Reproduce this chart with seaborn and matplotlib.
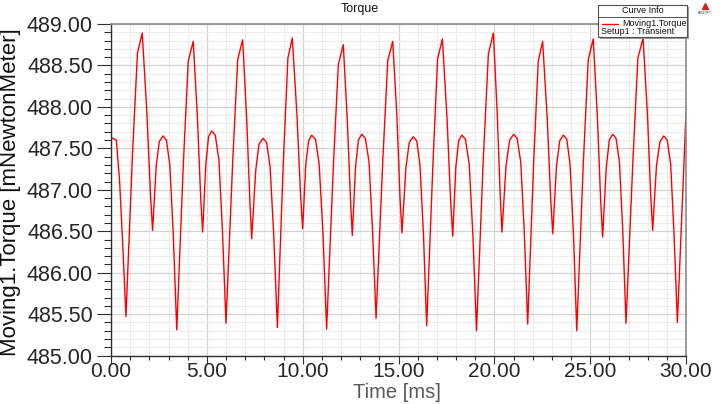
import matplotlib
matplotlib.use("Agg")
import matplotlib.pyplot as plt
from matplotlib.ticker import MultipleLocator, FormatStrFormatter
from matplotlib.patches import Rectangle
from matplotlib.lines import Line2D
import seaborn as sns
import pandas as pd

# ---- data (time in ms, torque in mNewtonMeter) ----
time_ms = [
    0.00, 0.28, 0.45, 0.62,
    0.78, 1.12, 1.38, 1.63, 1.87, 2.06, 2.17, 2.36, 2.52, 2.71, 2.89, 3.07, 3.25,
    3.43, 3.77, 4.03, 4.29, 4.51, 4.68, 4.78, 4.95, 5.09, 5.25, 5.44, 5.63, 5.81,
    6.00, 6.35, 6.61, 6.87, 7.08, 7.25, 7.34, 7.55, 7.72, 7.93, 8.12, 8.30, 8.49,
    8.68, 8.99, 9.23, 9.46, 9.70, 9.89, 10.00, 10.16, 10.31, 10.47, 10.67, 10.86, 11.06,
    11.25, 11.60, 11.86, 12.12, 12.33, 12.50, 12.59, 12.76, 12.91, 13.08, 13.27, 13.46, 13.64,
    13.83, 14.18, 14.44, 14.70, 14.92, 15.08, 15.18, 15.39, 15.56, 15.77, 15.95, 16.12, 16.30,
    16.47, 16.80, 17.04, 17.29, 17.53, 17.72, 17.83, 17.99, 18.14, 18.30, 18.49, 18.69, 18.88,
    19.07, 19.42, 19.69, 19.95, 20.15, 20.31, 20.40, 20.61, 20.80, 21.01, 21.19, 21.38, 21.56,
    21.74, 22.05, 22.29, 22.52, 22.76, 22.94, 23.05, 23.24, 23.41, 23.60, 23.78, 23.95, 24.13,
    24.30, 24.64, 24.90, 25.16, 25.38, 25.55, 25.65, 25.84, 26.00, 26.18, 26.35, 26.53, 26.70,
    26.87, 27.23, 27.49, 27.76, 27.99, 28.16, 28.26, 28.46, 28.64, 28.84, 29.02, 29.20, 29.37,
    29.55, 29.89, 30.00,
]
torque = [
    487.63, 487.60, 487.10, 486.30,
    485.47, 487.42, 488.65, 488.89, 487.94, 486.94, 486.51, 487.29, 487.58, 487.65, 487.60, 487.30, 486.46,
    485.31, 487.29, 488.55, 488.79, 487.87, 486.90, 486.49, 487.32, 487.64, 487.71, 487.66, 487.36, 486.53,
    485.39, 487.34, 488.57, 488.81, 487.85, 486.84, 486.41, 487.23, 487.55, 487.62, 487.57, 487.28, 486.46,
    485.34, 487.33, 488.59, 488.83, 487.91, 486.94, 486.53, 487.30, 487.59, 487.66, 487.61, 487.31, 486.47,
    485.32, 487.28, 488.51, 488.75, 487.83, 486.86, 486.45, 487.28, 487.60, 487.67, 487.62, 487.34, 486.54,
    485.45, 487.35, 488.56, 488.79, 487.87, 486.90, 486.48, 487.27, 487.57, 487.64, 487.59, 487.30, 486.48,
    485.36, 487.33, 488.58, 488.82, 487.87, 486.87, 486.44, 487.27, 487.59, 487.66, 487.61, 487.31, 486.46,
    485.30, 487.35, 488.64, 488.89, 487.93, 486.92, 486.49, 487.29, 487.60, 487.67, 487.62, 487.33, 486.50,
    485.38, 487.32, 488.55, 488.79, 487.86, 486.89, 486.47, 487.28, 487.59, 487.66, 487.61, 487.31, 486.46,
    485.30, 487.31, 488.57, 488.82, 487.86, 486.86, 486.43, 487.27, 487.60, 487.67, 487.62, 487.33, 486.51,
    485.39, 487.35, 488.59, 488.83, 487.90, 486.93, 486.51, 487.29, 487.58, 487.65, 487.60, 487.31, 486.50,
    485.40, 487.30, 487.95,
]

title = "Torque"
x_label = "Time [ms]"
y_label = "Moving1.Torque [mNewtonMeter]"
legend_title = "Curve Info"
legend_series = "Moving1.Torque"
legend_setup = "Setup1 : Transient"

df = pd.DataFrame({"t": time_ms, "v": torque})

sns.set_theme(style="white")
plt.rcParams["font.family"] = ["Liberation Sans", "DejaVu Sans"]

W, H = 720, 404
fig = plt.figure(figsize=(W / 100, H / 100), dpi=100)

def fx(x):
    return x / W

def fy(y):
    return 1 - y / H

ax_left, ax_right, ax_top, ax_bottom = 111, 686, 24, 355.6
ax = fig.add_axes([fx(ax_left), fy(ax_bottom), (ax_right - ax_left) / W, (ax_bottom - ax_top) / H])

sns.lineplot(data=df, x="t", y="v", color="#ff0000", linewidth=1.0, ax=ax)

ax.set_xlim(0, 30)
ax.set_ylim(485, 489)
ax.xaxis.set_major_locator(MultipleLocator(5))
ax.xaxis.set_minor_locator(MultipleLocator(1))
ax.yaxis.set_major_locator(MultipleLocator(0.5))
ax.yaxis.set_minor_locator(MultipleLocator(0.1))
ax.xaxis.set_major_formatter(FormatStrFormatter("%.2f"))
ax.yaxis.set_major_formatter(FormatStrFormatter("%.2f"))

ax.grid(which="major", color="#d2d2d2", linewidth=0.9)
ax.grid(which="minor", color="#ececec", linewidth=0.8)
ax.set_axisbelow(True)

ax.tick_params(axis="y", which="major", direction="out", length=10, width=0.8, color="#303030",
               labelsize=15.5, pad=3, left=True)
ax.tick_params(axis="y", which="minor", direction="out", length=5, width=0.8, color="#303030", left=True)
ax.tick_params(axis="x", which="major", direction="out", length=6, width=0.8, color="#303030",
               labelsize=15, pad=-1.5, bottom=True)
ax.tick_params(axis="x", which="minor", direction="out", length=3, width=0.8, color="#303030", bottom=True)

for s in ["left", "bottom"]:
    ax.spines[s].set_color("#303030")
    ax.spines[s].set_linewidth(1.0)
for s in ["top", "right"]:
    ax.spines[s].set_color("#8a8a8a")
    ax.spines[s].set_linewidth(1.2)

ax.set_xlabel(x_label, fontsize=14.5, color="#5a5a5a")
ax.xaxis.set_label_coords((397 - ax_left) / (ax_right - ax_left), -(383.5 - ax_bottom) / (ax_bottom - ax_top))
ax.xaxis.label.set_va("top")
ax.set_ylabel(y_label, fontsize=16, color="#111111")
ax.yaxis.set_label_coords(-(ax_left - 11) / (ax_right - ax_left), (ax_bottom - 192) / (ax_bottom - ax_top))
ax.yaxis.label.set_va("center")

fig.text(fx(360), fy(9), title, ha="center", va="center", fontsize=9, color="#111111")

# legend box ("Curve Info")
bx0, by0, bx1, by1 = 598, 5, 687, 37
fig.patches.append(Rectangle((fx(bx0 + 2), fy(by1 + 2)), (bx1 - bx0) / W, (by1 - by0) / H,
                             transform=fig.transFigure, facecolor="#9a9a9a", edgecolor="none", zorder=5))
fig.patches.append(Rectangle((fx(bx0), fy(by1)), (bx1 - bx0) / W, (by1 - by0) / H,
                             transform=fig.transFigure, facecolor="white", edgecolor="#505050",
                             linewidth=0.8, zorder=6))
fig.lines.append(Line2D([fx(bx0), fx(bx1)], [fy(16.5), fy(16.5)], transform=fig.transFigure,
                        color="#505050", linewidth=0.7, zorder=7))
fig.text(fx(643), fy(10.5), legend_title, ha="center", va="center", fontsize=6.5, color="#111111", zorder=8)
fig.lines.append(Line2D([fx(602), fx(618)], [fy(24), fy(24)], transform=fig.transFigure,
                        color="#ff0000", linewidth=1.0, zorder=7))
fig.text(fx(622), fy(24), legend_series, ha="left", va="center", fontsize=6.5, color="#111111", zorder=8)
fig.text(fx(601), fy(32), legend_setup, ha="left", va="center", fontsize=6.5, color="#111111", zorder=8)

# small logo
fig.lines.append(Line2D([fx(705)], [fy(6)], transform=fig.transFigure, marker="^", markersize=5,
                        color="#cc2222", linestyle="none", zorder=7))
fig.text(fx(705), fy(12.5), "ANSOFT", ha="center", va="center", fontsize=2.5, color="#444444")

fig.savefig("out.png", dpi=100)
